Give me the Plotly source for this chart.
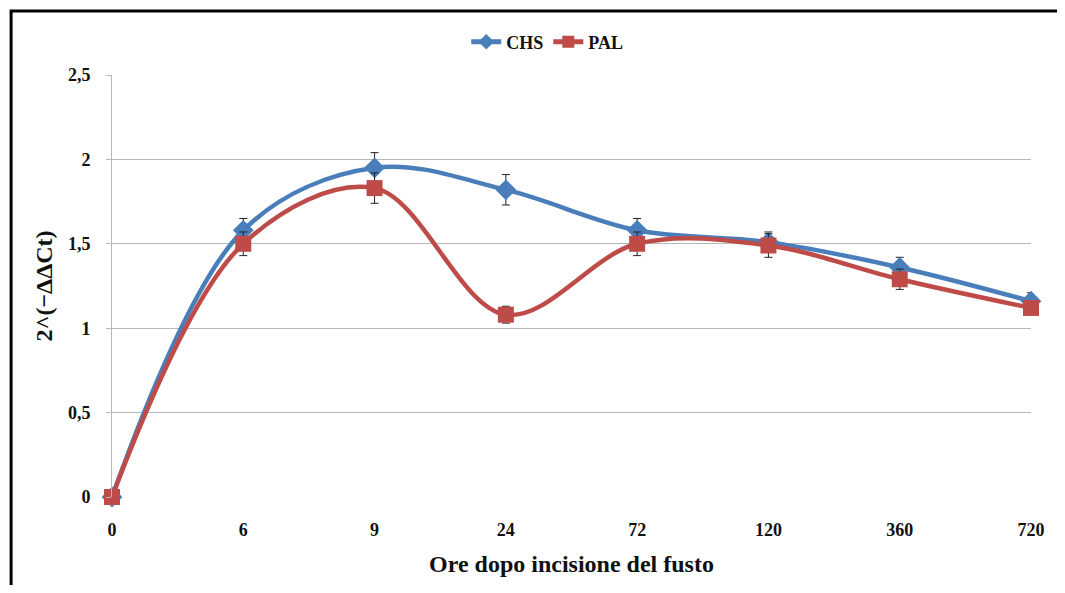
import plotly.graph_objects as go

categories = ["0", "6", "9", "24", "72", "120", "360", "720"]
chs_values = [0, 1.58, 1.95, 1.82, 1.58, 1.51, 1.36, 1.16]
chs_errors = [0, 0.07, 0.09, 0.09, 0.07, 0.06, 0.06, 0.05]
pal_values = [0, 1.50, 1.83, 1.08, 1.50, 1.49, 1.29, 1.12]
pal_errors = [0, 0.07, 0.09, 0.05, 0.07, 0.07, 0.06, 0.04]
y_ticks = [0, 0.5, 1, 1.5, 2, 2.5]
y_ticktext = ["0", "0,5", "1", "1,5", "2", "2,5"]

xpos = list(range(len(categories)))
FONT = "Liberation Serif"

fig = go.Figure()
fig.add_trace(go.Scatter(
    x=xpos, y=chs_values, name="CHS", mode="lines+markers",
    line=dict(color="#4a7ebb", width=4.5, shape="spline", smoothing=1.0),
    marker=dict(symbol="diamond", size=16, color="#4a7ebb"),
    error_y=dict(type="data", array=chs_errors, color="#222222", thickness=1, width=4),
    cliponaxis=False,
))
fig.add_trace(go.Scatter(
    x=xpos, y=pal_values, name="PAL", mode="lines+markers",
    line=dict(color="#be4b48", width=4.5, shape="spline", smoothing=1.0),
    marker=dict(symbol="square", size=16, color="#be4b48"),
    error_y=dict(type="data", array=pal_errors, color="#222222", thickness=1, width=4),
    cliponaxis=False,
))

W, H = 1049, 577
ml, mr, mt, mb = 104, 16, 67, 88
pw = W - ml - mr
ph = H - mt - mb

fig.update_layout(
    width=W, height=H,
    margin=dict(l=ml, r=mr, t=mt, b=mb),
    paper_bgcolor="white", plot_bgcolor="white",
    font=dict(family=FONT, color="#111111"),
    showlegend=True,
    legend=dict(orientation="h", x=(552 - 112) / pw, xanchor="center",
                y=1 + 33 / ph, yanchor="middle",
                font=dict(family=FONT, size=18, color="#111111", weight="bold"),
                itemwidth=30, tracegroupgap=0, itemsizing="constant"),
    xaxis=dict(
        range=[0, 7], tickvals=xpos, ticktext=categories,
        showgrid=False, zeroline=False, showline=False,
        tickfont=dict(family=FONT, size=18, color="#111111", weight="bold"),
        ticklabelstandoff=20,
        title=dict(text="Ore dopo incisione del fusto", standoff=16,
                   font=dict(family=FONT, size=24, color="#111111", weight="bold")),
    ),
    yaxis=dict(
        range=[0, 2.5], tickvals=y_ticks, ticktext=y_ticktext,
        showgrid=True, gridcolor="#b8b8b8", gridwidth=1, zeroline=False,
        showline=True, linecolor="#b8b8b8", linewidth=1,
        ticks="outside", ticklen=5, tickcolor="#b8b8b8",
        tickfont=dict(family=FONT, size=18, color="#111111", weight="bold"),
        ticklabelstandoff=12,
        title=dict(text="2^(−ΔΔCt)", standoff=8,
                   font=dict(family=FONT, size=24, color="#111111", weight="bold")),
    ),
)

# outer frame
fig.add_shape(type="rect", xref="paper", yref="paper",
              x0=(2 - ml) / pw, x1=(W + 20 - ml) / pw,
              y0=-(mb + 20) / ph, y1=1 + (mt - 3) / ph,
              line=dict(color="black", width=3), layer="below")

fig.write_html("out.html")
